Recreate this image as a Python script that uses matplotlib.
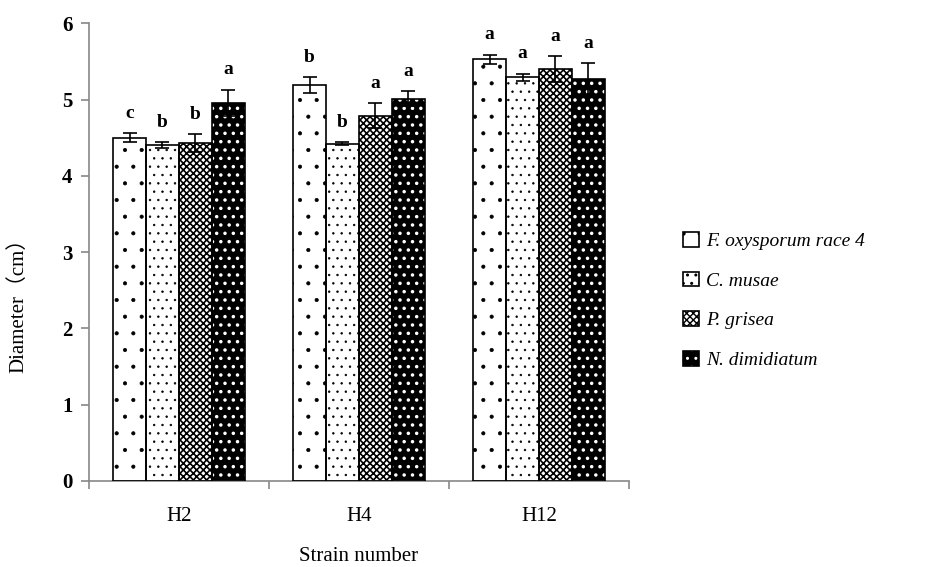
import numpy as np
import matplotlib.pyplot as plt

strains = ['H2', 'H4', 'H12']
species = ['F. oxysporum race 4', 'C. musae', 'P. grisea', 'N. dimidiatum']

fox = [4.50, 5.19, 5.53]
cmu = [4.40, 4.42, 5.29]
pgr = [4.43, 4.79, 5.40]
ndi = [4.96, 5.01, 5.27]
fox_err = [0.06, 0.10, 0.06]
cmu_err = [0.04, 0.02, 0.05]
pgr_err = [0.12, 0.16, 0.17]
ndi_err = [0.17, 0.10, 0.21]
fox_let = ['c', 'b', 'a']
cmu_let = ['b', 'b', 'a']
pgr_let = ['b', 'a', 'a']
ndi_let = ['a', 'a', 'a']

vals = [fox, cmu, pgr, ndi]
errs = [fox_err, cmu_err, pgr_err, ndi_err]
lets = [fox_let, cmu_let, pgr_let, ndi_let]

plt.rcParams['font.family'] = 'Liberation Serif'

fig = plt.figure(figsize=(9.36, 5.67), dpi=100)
ax = fig.add_axes([0.095, 0.152, 0.577, 0.807])

x = np.arange(len(strains))
w = 0.183
styles = [
    dict(face='white', hatch='.', hc='black', hlw=0.5),
    dict(face='white', hatch='..', hc='black', hlw=0.5),
    dict(face='white', hatch='xxxxx', hc='black', hlw=1.2),
    dict(face='black', hatch='..', hc='white', hlw=1.3),
]


def hatch_lw(patch, lw):
    if hasattr(patch, 'set_hatch_linewidth'):
        patch.set_hatch_linewidth(lw)
    else:
        patch._hatch_linewidth = lw


handles = []
for i in range(4):
    pos = x + (i - 1.5) * w
    st = styles[i]
    bars = ax.bar(pos, vals[i], w, color=st['face'], edgecolor=st['hc'],
                  hatch=st['hatch'], linewidth=0, zorder=2)
    for b in bars:
        hatch_lw(b, st['hlw'])
    ax.bar(pos, vals[i], w, fill=False, edgecolor='black', linewidth=1.2, zorder=3)
    ax.errorbar(pos, vals[i], yerr=errs[i], fmt='none', ecolor='black',
                elinewidth=1.2, capsize=5, capthick=1.2, zorder=4)
    for p, v, e, l in zip(pos, vals[i], errs[i], lets[i]):
        ax.annotate(l, (p, v + e), xytext=(0, 8), textcoords='offset points',
                    ha='center', va='bottom', fontsize=14, fontweight='bold')
    h1 = plt.Rectangle((0, 0), 1, 1, facecolor=st['face'], edgecolor=st['hc'],
                       hatch=st['hatch'], linewidth=0)
    hatch_lw(h1, st['hlw'])
    h2 = plt.Rectangle((0, 0), 1, 1, fill=False, edgecolor='black', linewidth=1.2)
    handles.append((h1, h2))

ax.set_xlim(-0.5, 2.5)
ax.set_ylim(0, 6)
ax.set_yticks(range(7))
ax.set_yticklabels([str(t) for t in range(7)], fontsize=15, fontweight='bold')
ax.set_xticks(x)
ax.set_xticklabels(strains, fontsize=15)
ax.set_xticks([-0.5, 0.5, 1.5, 2.5], minor=True)
ax.tick_params(axis='x', which='major', length=0, pad=19)
ax.tick_params(axis='x', which='minor', length=6, color='#888888', width=1.2)
ax.tick_params(axis='y', length=6, color='#888888', width=1.2, pad=6)
for s in ['top', 'right']:
    ax.spines[s].set_visible(False)
for s in ['left', 'bottom']:
    ax.spines[s].set_color('#888888')
    ax.spines[s].set_linewidth(1.2)

ax.set_xlabel('Strain number', fontsize=15, labelpad=15)
ax.set_ylabel('Diameter（cm）', fontsize=15,
              family=['Liberation Serif', 'Noto Sans CJK SC'])
ax.yaxis.set_label_coords(-0.113, 0.395)

fig.legend(handles, species, loc='center left', bbox_to_anchor=(0.711, 0.47),
           frameon=False,
           prop={'family': 'Liberation Serif', 'style': 'italic', 'size': 14},
           handlelength=0.8, handleheight=0.8, handletextpad=0.4,
           labelspacing=1.1)

fig.savefig('out.png', dpi=100)
